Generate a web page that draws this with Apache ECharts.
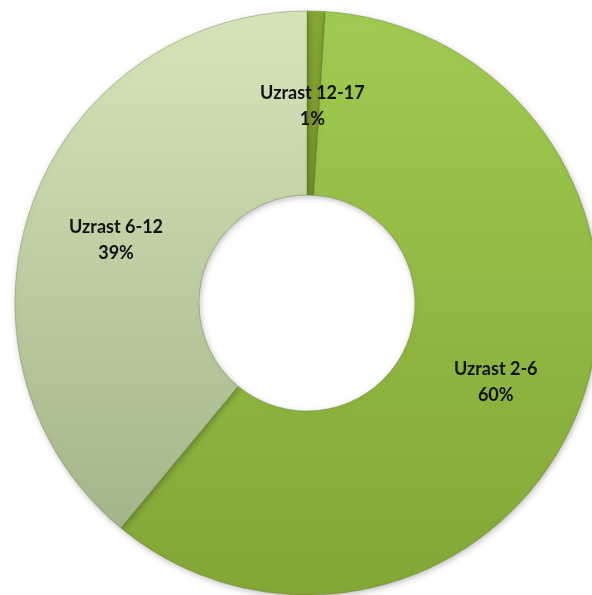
<!DOCTYPE html>
<html style="height: 100%">
    <head>
        <meta charset="utf-8">
    </head>
    <body style="height: 100%; margin: 0; background: #fff">
        <div id="container" style="width: 592px; height: 595px"></div>
        <script type="text/javascript" src="https://cdn.jsdelivr.net/npm/echarts@6/dist/echarts.min.js"></script>
        <script type="text/javascript">
// age groups, in clockwise order from 12 o'clock
var categories = ['Uzrast 12-17', 'Uzrast 2-6', 'Uzrast 6-12'];
var shares = [1, 60, 39];
var topColors = ['#84a832', '#a0cb50', '#d6e6ba'];
var bottomColors = ['#78982a', '#83a636', '#a3b58a'];
// nudges so labels sit where the original put them
var labelShift = [[-1, 6], [0, 4], [0, 6]];

var dom = document.getElementById('container');
var myChart = echarts.init(dom);

var option = {
    animation: false,
    series: [
        {
            type: 'pie',
            center: [307, 303],
            radius: [108, 292],
            startAngle: 90,
            clockwise: true,
            avoidLabelOverlap: false,
            label: {
                show: true,
                position: 'inside',
                formatter: '{b}\n{d}%',
                color: '#111',
                fontFamily: 'Lato',
                fontWeight: 'bold',
                fontSize: 18,
                lineHeight: 26,
                textBorderWidth: 0
            },
            labelLayout: function (params) {
                var s = labelShift[params.dataIndex];
                return { dx: s[0], dy: s[1] };
            },
            labelLine: { show: false },
            itemStyle: {
                borderColor: 'rgba(90,110,50,0.35)',
                borderWidth: 1,
                shadowColor: 'rgba(0,0,0,0.25)',
                shadowBlur: 6,
                shadowOffsetX: 1,
                shadowOffsetY: 2
            },
            data: categories.map(function (name, i) {
                return {
                    name: name,
                    value: shares[i],
                    itemStyle: {
                        color: new echarts.graphic.LinearGradient(0, 0, 0, 1, [
                            { offset: 0, color: topColors[i] },
                            { offset: 1, color: bottomColors[i] }
                        ])
                    }
                };
            })
        }
    ]
};

myChart.setOption(option);
        </script>
    </body>
</html>
